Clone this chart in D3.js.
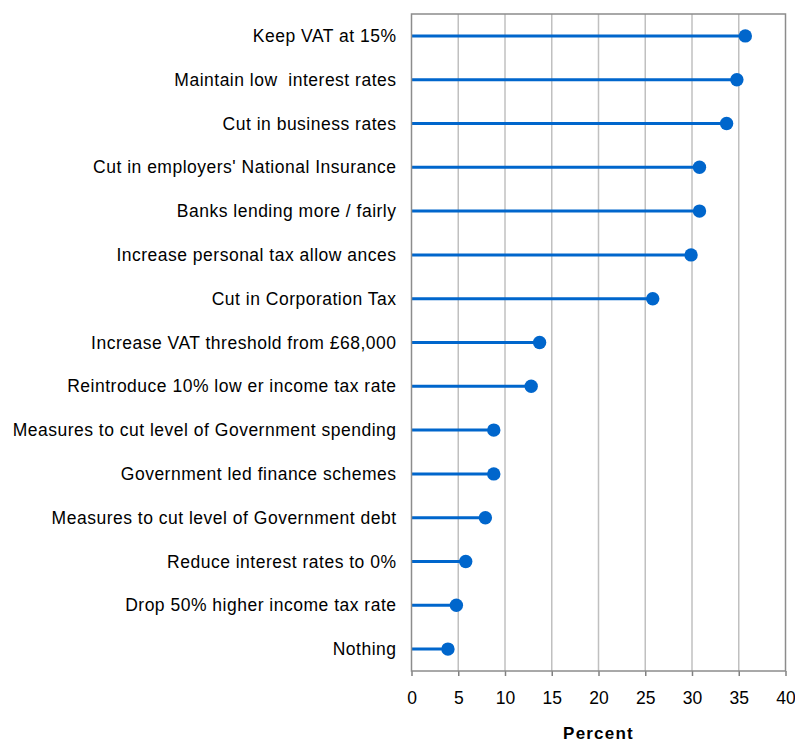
<!DOCTYPE html>
<html>
<head>
<meta charset="utf-8">
<script src="https://cdn.jsdelivr.net/npm/d3@7"></script>
<style>
  body { margin: 0; background: #fff; }
  text { font-family: "Liberation Sans", Arial, sans-serif; fill: #000; }
</style>
</head>
<body>
<div id="chart"></div>
<script>
const categories = [
  "Keep VAT at 15%",
  "Maintain low  interest rates",
  "Cut in business rates",
  "Cut in employers' National Insurance",
  "Banks lending more / fairly",
  "Increase personal tax allow ances",
  "Cut in Corporation Tax",
  "Increase VAT threshold from £68,000",
  "Reintroduce 10% low er income tax rate",
  "Measures to cut level of Government spending",
  "Government led finance schemes",
  "Measures to cut level of Government debt",
  "Reduce interest rates to 0%",
  "Drop 50% higher income tax rate",
  "Nothing"
];
const values = [35.7, 34.8, 33.7, 30.8, 30.8, 29.9, 25.8, 13.7, 12.8, 8.8, 8.8, 7.9, 5.8, 4.8, 3.9];
const xTicks = [0, 5, 10, 15, 20, 25, 30, 35, 40];

const W = 795, H = 743;
const margin = {top: 14, right: 9.5, bottom: 72, left: 411.5};
const width = W - margin.left - margin.right;
const height = H - margin.top - margin.bottom;

const svg = d3.select("#chart").append("svg")
    .attr("width", W)
    .attr("height", H);
const g = svg.append("g")
    .attr("transform", `translate(${margin.left},${margin.top})`);

const x = d3.scaleLinear().domain([0, 40]).range([0, width]);
const y = d3.scaleBand().domain(categories).range([0, height]).padding(0);

// vertical grid
g.selectAll(".grid")
    .data(xTicks.slice(1, -1))
    .enter().append("line")
    .attr("x1", d => x(d)).attr("x2", d => x(d))
    .attr("y1", 0).attr("y2", height)
    .attr("stroke", "#c0c0c0")
    .attr("stroke-width", 1.5);

// x axis
const xAxis = g.append("g")
    .attr("transform", `translate(0,${height})`)
    .call(d3.axisBottom(x).tickValues(xTicks).tickSize(5).tickPadding(16));
xAxis.select(".domain").remove();
xAxis.selectAll("line").attr("stroke", "#808080").attr("stroke-width", 1.5);
xAxis.selectAll("text")
    .style("font-family", "'Liberation Sans', Arial, sans-serif")
    .style("font-size", "17.5px")
    .attr("fill", "#000");

// category labels
g.selectAll(".cat")
    .data(categories)
    .enter().append("text")
    .attr("x", -15)
    .attr("y", d => y(d) + y.bandwidth() / 2)
    .attr("dy", "0.35em")
    .attr("text-anchor", "end")
    .style("font-size", "17.5px")
    .style("letter-spacing", "0.5px")
    .style("white-space", "pre")
    .text(d => d);

// stems
g.selectAll(".stem")
    .data(values)
    .enter().append("line")
    .attr("x1", 0)
    .attr("x2", d => x(d))
    .attr("y1", (d, i) => y(categories[i]) + y.bandwidth() / 2)
    .attr("y2", (d, i) => y(categories[i]) + y.bandwidth() / 2)
    .attr("stroke", "#0066cc")
    .attr("stroke-width", 3);

// dots
g.selectAll(".dot")
    .data(values)
    .enter().append("circle")
    .attr("cx", d => x(d))
    .attr("cy", (d, i) => y(categories[i]) + y.bandwidth() / 2)
    .attr("r", 6.7)
    .attr("fill", "#0066cc");

// frame
g.append("rect")
    .attr("width", width).attr("height", height)
    .attr("fill", "none")
    .attr("stroke", "#8c8c8c")
    .attr("stroke-width", 1.5);

// axis title
svg.append("text")
    .attr("x", margin.left + width / 2)
    .attr("y", 739)
    .attr("text-anchor", "middle")
    .style("font-size", "17px")
    .style("font-weight", "bold")
    .style("letter-spacing", "1.2px")
    .text("Percent");
</script>
</body>
</html>
